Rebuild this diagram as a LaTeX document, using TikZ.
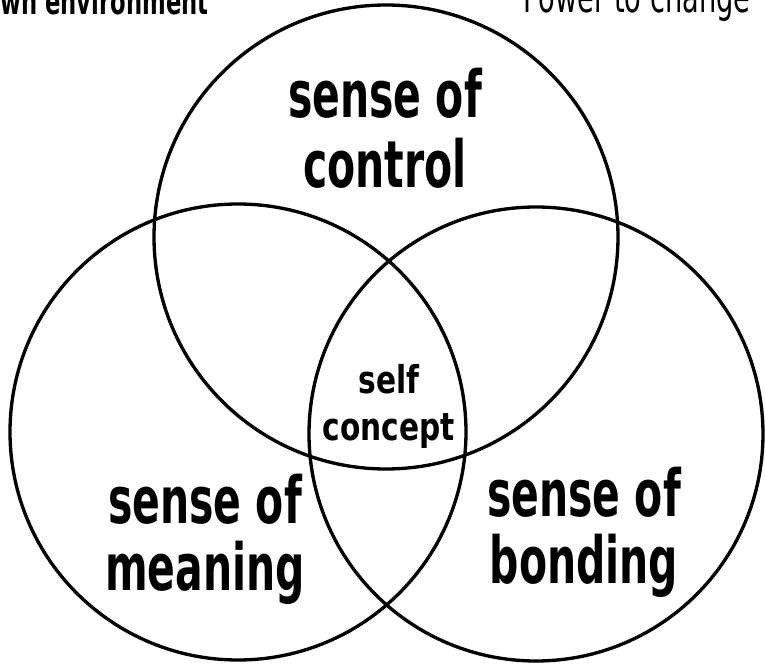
\documentclass[tikz,border=0pt]{standalone}
\usepackage{fontspec}
\newfontfamily\bigvenn[FakeStretch=0.7]{DejaVu Sans Condensed Bold}
\newfontfamily\smallvenn[FakeStretch=0.86]{DejaVu Sans Condensed Bold}
\newfontfamily\cornerlight[FakeStretch=0.7]{DejaVu Sans Condensed}
\tikzset{
  ring/.style={line width=1.9pt},
  label big/.style={inner sep=0pt, align=center, font=\bigvenn\fontsize{37}{39.8}\selectfont},
  label side/.style={inner sep=0pt, align=center, font=\bigvenn\fontsize{37}{38.1}\selectfont},
  label mid/.style={inner sep=0pt, align=center, font=\smallvenn\fontsize{21.8}{26.7}\selectfont}
}
\begin{document}
\begin{tikzpicture}[x=0.02cm,y=0.02cm]
\useasboundingbox (0,0) rectangle (765,667);
\clip (0,0) rectangle (765,667);
\draw[ring] (386,430) circle (232);
\draw[ring] (238,235) circle (228);
\draw[ring] (536,233) circle (227);
\node[label big] (control) at (385,538.7) {sense of\\control};
\node[label side] (meaning) at (205,127.5) {sense of\\meaning};
\node[label side] (bonding) at (584,135) {sense of\\bonding};
\node[label mid] (self) at (389,260.5) {self\\concept};
% top lines, cut off by the page edge
\node[inner sep=0pt, anchor=base west, font=\bigvenn\fontsize{20.5}{24}\selectfont] (environment) at (0,652) {wn environment};
\node[inner sep=0pt, anchor=base west, font=\cornerlight\fontsize{24.6}{28}\selectfont] (power) at (523,654) {Power to change};
\end{tikzpicture}
\end{document}
